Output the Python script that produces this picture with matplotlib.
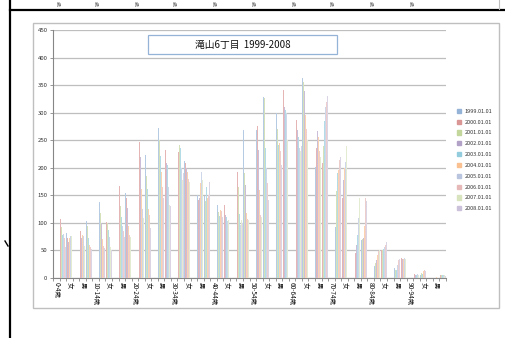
import matplotlib
matplotlib.use('Agg')
import matplotlib.pyplot as plt
from matplotlib.patches import Rectangle
from matplotlib.lines import Line2D
from matplotlib.colors import to_rgb
import numpy as np

plt.rcParams['font.family'] = ['Noto Sans CJK JP', 'DejaVu Sans']

years = ['1999.01.01', '2000.01.01', '2001.01.01', '2002.01.01', '2003.01.01',
         '2004.01.01', '2005.01.01', '2006.01.01', '2007.01.01', '2008.01.01']
ages = ['0-4歳', '5-9歳', '10-14歳', '15-19歳', '20-24歳', '25-29歳', '30-34歳',
        '35-39歳', '40-44歳', '45-49歳', '50-54歳', '55-59歳', '60-64歳', '65-69歳',
        '70-74歳', '75-79歳', '80-84歳', '85-89歳', '90-94歳', '95-99歳']
colors = ['#95B3D7', '#D99694', '#C3D69B', '#B3A2C7', '#93CDDD',
          '#FAC090', '#B9C5DF', '#E6B9B8', '#D7E4BD', '#CCC1DA']

# rows = age groups, columns = years
male = [
    [116, 107, 93, 84, 78, 78, 79, 73, 57, 56],
    [93, 86, 84, 73, 72, 78, 77, 70, 58, 62],
    [137, 120, 118, 100, 92, 70, 65, 58, 56, 55],
    [200, 167, 130, 115, 110, 97, 95, 85, 80, 75],
    [253, 247, 230, 220, 205, 162, 125, 113, 108, 100],
    [273, 253, 250, 229, 221, 193, 184, 166, 148, 145],
    [211, 229, 242, 240, 236, 230, 200, 180, 178, 190],
    [150, 141, 142, 145, 166, 172, 193, 185, 178, 147],
    [133, 121, 120, 117, 112, 123, 115, 122, 120, 110],
    [236, 193, 166, 141, 117, 102, 96, 112, 105, 100],
    [269, 275, 266, 232, 200, 160, 123, 114, 110, 105],
    [299, 293, 270, 250, 241, 245, 256, 230, 215, 205],
    [296, 287, 275, 269, 256, 244, 236, 217, 230, 240],
    [202, 235, 262, 266, 275, 256, 244, 230, 220, 210],
    [93, 123, 157, 175, 190, 196, 208, 214, 229, 220],
    [39, 46, 54, 60, 78, 93, 108, 126, 145, 120],
    [21, 22, 27, 33, 36, 42, 51, 49, 50, 52],
    [18, 16, 15, 14, 15, 21, 24, 33, 36, 35],
    [7, 8, 7, 6, 5, 6, 8, 7, 6, 5],
    [0, 0, 0, 0, 1, 1, 1, 0, 0, 1],
]
female = [
    [82, 72, 68, 66, 70, 72, 76, 74, 76, 77],
    [104, 102, 95, 85, 73, 60, 57, 56, 55, 52],
    [116, 102, 100, 88, 87, 80, 74, 65, 56, 50],
    [155, 146, 140, 127, 105, 95, 82, 78, 75, 74],
    [224, 204, 185, 178, 162, 125, 120, 115, 106, 90],
    [257, 233, 214, 209, 205, 204, 166, 150, 132, 130],
    [213, 208, 205, 200, 196, 192, 185, 180, 175, 168],
    [148, 128, 140, 145, 165, 145, 160, 150, 148, 175],
    [154, 133, 122, 115, 110, 107, 104, 100, 105, 107],
    [269, 223, 190, 169, 142, 118, 110, 107, 106, 103],
    [329, 335, 326, 300, 235, 232, 200, 172, 150, 142],
    [399, 341, 314, 311, 305, 299, 300, 290, 250, 240],
    [362, 359, 356, 340, 314, 296, 290, 270, 250, 240],
    [169, 208, 240, 269, 285, 299, 310, 320, 338, 330],
    [93, 145, 166, 178, 196, 199, 211, 229, 240, 256],
    [69, 69, 70, 72, 80, 95, 123, 145, 160, 140],
    [51, 51, 50, 52, 53, 55, 57, 60, 63, 66],
    [36, 36, 35, 34, 35, 35, 36, 35, 34, 35],
    [6, 8, 9, 8, 8, 12, 14, 15, 18, 13],
    [4, 5, 5, 6, 6, 5, 5, 4, 5, 4],
]

W, H = 505, 338
def fx(x):
    return x / W
def fy(y):
    return 1 - y / H

# category list: age label row (empty), then 男, 女
cats = []
for a in ages:
    cats += [a, '男', '女']
n = len(cats)
vals = np.zeros((n, len(years)))
for k in range(len(ages)):
    vals[3 * k + 1] = male[k]
    vals[3 * k + 2] = female[k]

# thin bars look washed out in the original, blend towards white
bar_cols = [tuple(0.7 * c + 0.3 for c in to_rgb(col)) for col in colors]

fig = plt.figure(figsize=(W / 100, H / 100), dpi=100)
fig.patch.set_facecolor('white')

# chart area border
fig.add_artist(Rectangle((fx(33), fy(308)), fx(499) - fx(33), fy(23) - fy(308),
                         transform=fig.transFigure, fill=False, ec='#BFBFBF', lw=1))

ax = fig.add_axes([fx(53), fy(278), fx(446) - fx(53), fy(30) - fy(278)])
w = 1 / (len(years) + 1.2)
x = np.arange(n)
for j in range(len(years)):
    ax.bar(x - 0.5 + w * (0.6 + j + 0.5), vals[:, j], width=w, color=bar_cols[j],
           lw=0, zorder=3)

ax.set_xlim(-0.5, n - 0.5)
ax.set_ylim(0, 450)
ax.set_yticks(range(0, 451, 50))
ax.yaxis.grid(True, color='#BEBEBE', lw=0.9, zorder=0)
for s in ['top', 'right']:
    ax.spines[s].set_visible(False)
ax.spines['left'].set_color('#868686')
ax.spines['bottom'].set_color('#868686')
ax.tick_params(axis='y', labelsize=4.3, length=2, width=0.6, color='#868686',
               labelcolor='#333333', pad=2)
ax.set_xticks(np.arange(n + 1) - 0.5, minor=True)
ax.set_xticks(x[::2])
ax.set_xticklabels(cats[::2], rotation=270, fontsize=4.6, color='#111111')
ax.tick_params(axis='x', which='major', length=0, pad=3)
ax.tick_params(axis='x', which='minor', length=2, width=0.6, color='#868686')

# title box
fig.add_artist(Rectangle((fx(148), fy(54)), fx(337) - fx(148), fy(35) - fy(54),
                         transform=fig.transFigure, fc='white', ec='#95B3D7', lw=0.9))
fig.text(fx(243), fy(45), '滝山6丁目  1999-2008', ha='center', va='center',
         fontsize=7, color='#111111')

handles = [Rectangle((0, 0), 1, 1, color=c) for c in colors]
fig.legend(handles, years, loc='upper left', bbox_to_anchor=(fx(454), fy(106)),
           frameon=False, fontsize=4, labelspacing=1.05, handlelength=0.75,
           handleheight=0.75, handletextpad=0.6, borderpad=0, labelcolor='#333333')

# surrounding sheet lines
fig.add_artist(Line2D([fx(10), fx(10)], [0, 1], transform=fig.transFigure,
                      color='black', lw=1.6))
fig.add_artist(Line2D([fx(10), 1], [fy(10), fy(10)], transform=fig.transFigure,
                      color='black', lw=1.6))
fig.add_artist(Line2D([fx(499), fx(499)], [fy(9), 1], transform=fig.transFigure,
                      color='#BFBFBF', lw=0.8))
fig.add_artist(Line2D([fx(5), fx(8)], [fy(241), fy(246)], transform=fig.transFigure,
                      color='black', lw=1))
# labels of the chart above, peeking in at the top
for px in [57, 95, 135, 173, 213, 252, 292, 330, 370, 410]:
    fig.text(fx(px), fy(0.8), '歳', rotation=270, ha='center', va='top',
             fontsize=3.6, color='#555555')

fig.savefig('out.png', dpi=100)
